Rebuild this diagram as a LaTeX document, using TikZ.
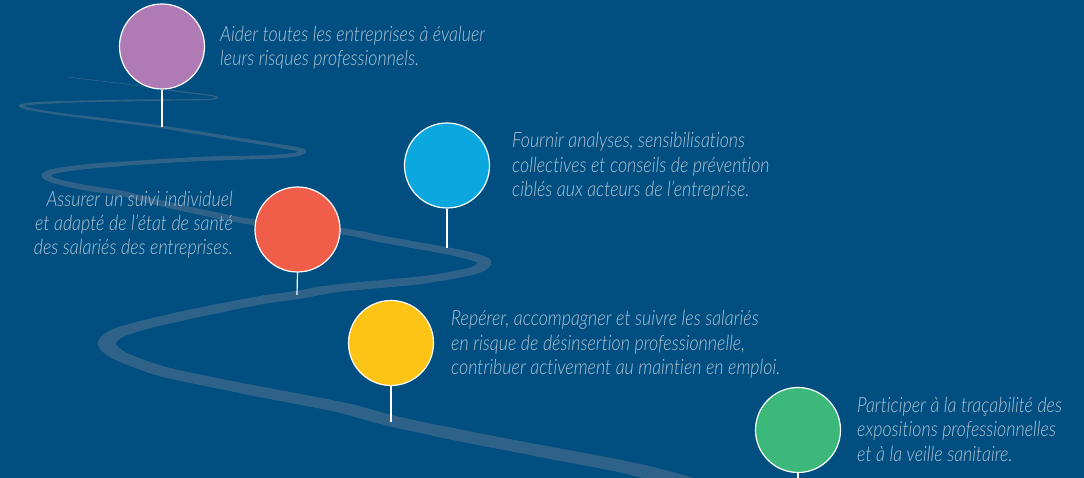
\documentclass[tikz,border=0pt]{standalone}
\usepackage{fontspec}
\newfontfamily\tfont{Lato Light}[FakeStretch=0.85, Ligatures=NoCommon]
\definecolor{bg}{HTML}{014F80}
\definecolor{roadc}{HTML}{2E6288}
\definecolor{txtc}{HTML}{AFC3D8}
\definecolor{cpurple}{HTML}{B07AB4}
\definecolor{cblue}{HTML}{0BA7DF}
\definecolor{cred}{HTML}{F05D48}
\definecolor{cyellow}{HTML}{FEC415}
\definecolor{cgreen}{HTML}{3CB97A}
\tikzset{
  pin/.style={circle, draw=white, line width=1.2pt, minimum size=85pt, inner sep=0pt},
  stem/.style={draw=white, line width=1.2pt},
  txt/.style={text=txtc, inner sep=0pt, font=\tfont\itshape\fontsize{21}{24}\selectfont},
  txtl/.style={txt, anchor=base west},
  txtr/.style={txt, anchor=base east},
  roadline/.style={draw=roadc, line cap=round, line join=round},
}
\begin{document}
\begin{tikzpicture}[x=1pt,y=-1pt]
\fill[bg] (0,0) rectangle (1084,478);
\useasboundingbox (0,0) rectangle (1084,478);
% road (drawn in a vertically stretched space, then squashed: perspective widths)
\begin{scope}
\clip (0,0) rectangle (1084,478);
\begin{scope}[y=-2pt, transform canvas={yscale=0.5}]
\foreach \k [evaluate=\k as \w using 1.2+\k, evaluate=\k as \ph using 10000-105*\k] in {0,...,23}{
\path[roadline, line width=\w pt, dash pattern=on 5000pt off 5000pt, dash phase=\ph pt]
 plot[smooth, tension=0.55] coordinates {
 (67,77) (133,85) (183,92) (208,95) (217,97.5) (208,99.5) (167,100) (100,101) (40,103) (21,105.5) (30,109) (60,114) (100,119) (162,127) (230,138) (280,146) (302,150.5) (296,154.5) (267,157) (200,159) (133,163) (83,167) (55,171) (46,175.5) (55,181) (87,188) (120,193) (160,203) (210,214) (253,222) (340,231) (387,240) (453,252) (480,259) (484,264) (472,271) (422,280) (339,288) (297,295) (256,301) (173,318) (123,331) (107,342) (115,353) (140,364) (173,374) (256,391) (339,407) (392,421) (463,436) (546,452) (629,468) (690,484) (740,500)};
}
\end{scope}
\end{scope}
% road contact points
\coordinate (e1) at (162,127);
\coordinate (e2) at (447,248);
\coordinate (e3) at (297,295);
\coordinate (e4) at (391,422);
\coordinate (e5) at (798,478);
% circles
\node[pin, fill=cpurple] (c1) at (162,46.5) {};
\node[pin, fill=cblue] (c2) at (447,165.5) {};
\node[pin, fill=cred] (c3) at (297.5,229.5) {};
\node[pin, fill=cyellow] (c4) at (391,343) {};
\node[pin, fill=cgreen] (c5) at (798,430) {};
\draw[stem] (c1.south) -- (e1);
\draw[stem] (c2.south) -- (e2);
\draw[stem] (c3.south) -- (e3);
\draw[stem] (c4.south) -- (e4);
\draw[stem] (c5.south) -- (e5);
% texts
\node[txtl] (t1a) at (220,42) {Aider toutes les entreprises à évaluer};
\node[txtl] (t1b) at (220,66) {leurs risques professionnels.};
\node[txtl] (t2a) at (512,148) {Fournir analyses, sensibilisations};
\node[txtl] (t2b) at (512,172.5) {collectives et conseils de prévention};
\node[txtl] (t2c) at (512,197) {ciblés aux acteurs de l’entreprise.};
\node[txtr] (t3a) at (233,207) {Assurer un suivi individuel};
\node[txtr] (t3b) at (233,231) {et adapté de l’état de santé};
\node[txtr] (t3c) at (233,255) {des salariés des entreprises.};
\node[txtl] (t4a) at (451,326) {Repérer, accompagner et suivre les salariés};
\node[txtl] (t4b) at (451,350) {en risque de désinsertion professionnelle,};
\node[txtl] (t4c) at (451,374) {contribuer activement au maintien en emploi.};
\node[txtl] (t5a) at (857,412) {Participer à la traçabilité des};
\node[txtl] (t5b) at (857,436.5) {expositions professionnelles};
\node[txtl] (t5c) at (857,461) {et à la veille sanitaire.};
\end{tikzpicture}
\end{document}
